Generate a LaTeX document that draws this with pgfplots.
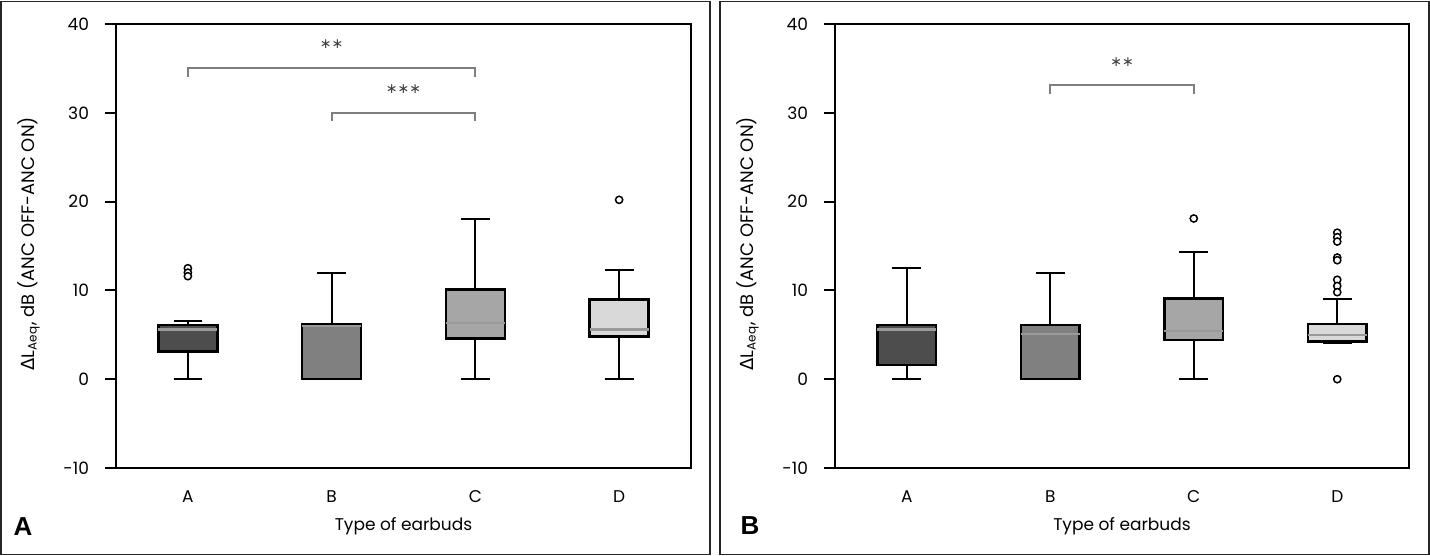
\documentclass[border=0pt]{standalone}
\usepackage{fontspec}
\setmainfont{Poppins}
\newfontfamily\gfont{DejaVu Sans}
\newfontfamily\labfont{Liberation Sans}
\usepackage{pgfplots}
\usepgfplotslibrary{statistics}
\pgfplotsset{compat=1.18}
\definecolor{cA}{HTML}{4D4D4D}
\definecolor{cB}{HTML}{808080}
\definecolor{cC}{HTML}{A6A6A6}
\definecolor{cD}{HTML}{D9D9D9}
\definecolor{medgray}{HTML}{9A9A9A}
\definecolor{brgray}{HTML}{7F7F7F}
\tikzset{bracket/.style={draw=brgray, line width=1pt},
  stars/.style={font=\gfont\fontsize{7}{8}\selectfont, text=black!75, inner sep=0pt}}
\pgfplotsset{
  earbud/.style={
    scale only axis, width=287.5pt, height=222pt,
    xmin=-0.5, xmax=3.5, ymin=-10, ymax=40,
    xtick={0,1,2,3}, xticklabels={A,B,C,D},
    ytick={-10,0,10,20,30,40},
    ytick pos=left, tick align=outside, major tick length=5.5pt,
    x tick style={draw=none},
    y tick style={line width=1pt, black},
    axis line style={line width=1pt},
    tick label style={font=\fontsize{8.5}{10}\selectfont},
    /pgf/number format/assume math mode=true,
    xlabel={Type of earbuds},
    ylabel={{\gfont Δ}L\textsubscript{Aeq}, dB (ANC OFF-ANC ON)},
    xlabel style={font=\fontsize{8.5}{10}\selectfont, at={(axis description cs:0.5,-0.13)}, anchor=center},
    ylabel style={font=\fontsize{9}{10}\selectfont, at={(axis description cs:-0.152,0.505)}, anchor=center},
    xticklabel style={anchor=base, yshift=-12pt},
    yticklabel style={xshift=-4.5pt},
    boxplot/draw direction=y,
    boxplot/box extend=0.41, boxplot/whisker extend=0.2,
    boxplot/every box/.style={draw=black, line width=1.3pt},
    boxplot/every whisker/.style={draw=black, line width=1pt},
    boxplot/every median/.style={draw=medgray, line width=1.2pt},
    clip=false,
  },
  bx/.style={solid, draw=black, fill=#1, mark=*, mark size=1.8pt,
    mark options={fill=white, draw=black, line width=0.75pt},
    boxplot/draw direction=y},
}
\begin{document}
\begin{tikzpicture}
\useasboundingbox (0,0) rectangle (715pt,278pt);
\draw[line width=0.65pt, black!85] (0.5pt,0.75pt) rectangle (355pt,277.25pt);
\draw[line width=0.65pt, black!85] (360pt,0.75pt) rectangle (714.5pt,277.25pt);
\node[font=\labfont\bfseries\fontsize{13}{14}\selectfont] at (11.5pt,14.5pt) {A};
\node[font=\labfont\bfseries\fontsize{13}{14}\selectfont] at (375pt,15pt) {B};

\begin{axis}[earbud, at={(58pt,44pt)}, anchor=south west]
\addplot[bx=cA, boxplot prepared={draw position=0, lower whisker=0, lower quartile=3.1, median=5.6, upper quartile=6.1, upper whisker=6.5}] coordinates {(0,12.5) (0,12.0) (0,11.6)};
\addplot[bx=cB, boxplot prepared={draw position=1, lower whisker=0, lower quartile=0, median=6.0, upper quartile=6.2, upper whisker=12.0}] coordinates {};
\addplot[bx=cC, boxplot prepared={draw position=2, lower whisker=0, lower quartile=4.6, median=6.3, upper quartile=10.1, upper whisker=18.0}] coordinates {};
\addplot[bx=cD, boxplot prepared={draw position=3, lower whisker=0, lower quartile=4.8, median=5.6, upper quartile=9.0, upper whisker=12.3}] coordinates {(3,20.2)};
\draw[bracket] (axis cs:0,34.05) -- (axis cs:0,35) -- (axis cs:2,35) -- (axis cs:2,34.05);
\draw[bracket] (axis cs:1,29.1) -- (axis cs:1,30) -- (axis cs:2,30) -- (axis cs:2,29.1);
\node[stars] at (axis cs:1,37.75) {∗∗};
\node[stars] at (axis cs:1.5,32.7) {∗∗∗};
\end{axis}

\begin{axis}[earbud, at={(417.5pt,44pt)}, anchor=south west, width=287pt]
\addplot[bx=cA, boxplot prepared={draw position=0, lower whisker=0, lower quartile=1.6, median=5.6, upper quartile=6.1, upper whisker=12.5}] coordinates {};
\addplot[bx=cB, boxplot prepared={draw position=1, lower whisker=0, lower quartile=0, median=5.1, upper quartile=6.1, upper whisker=12.0}] coordinates {};
\addplot[bx=cC, boxplot prepared={draw position=2, lower whisker=0, lower quartile=4.4, median=5.45, upper quartile=9.1, upper whisker=14.3}] coordinates {(2,18.1)};
\addplot[bx=cD, boxplot prepared={draw position=3, lower whisker=4.05, lower quartile=4.25, median=5.0, upper quartile=6.2, upper whisker=9.0}] coordinates {(3,16.5) (3,16.0) (3,15.5) (3,13.7) (3,13.4) (3,11.2) (3,10.5) (3,9.8) (3,0)};
\draw[bracket] (axis cs:1,32.15) -- (axis cs:1,33.1) -- (axis cs:2,33.1) -- (axis cs:2,32.15);
\node[stars] at (axis cs:1.5,35.7) {∗∗};
\end{axis}
\end{tikzpicture}
\end{document}
